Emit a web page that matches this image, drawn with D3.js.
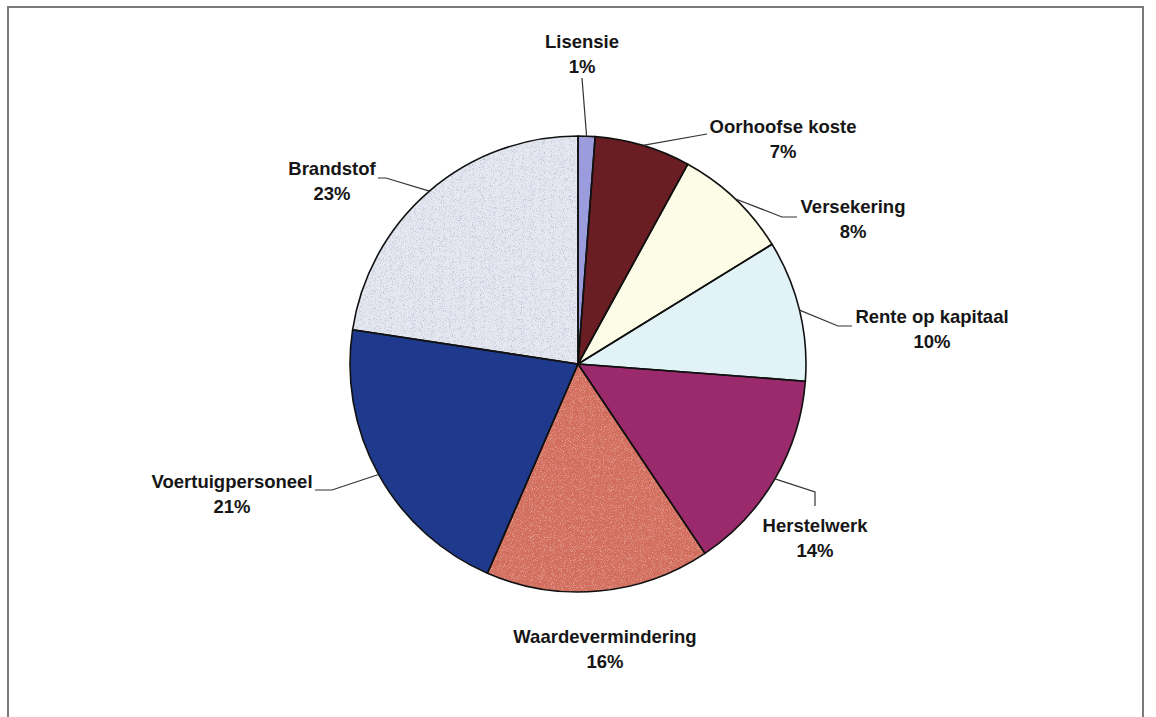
<!DOCTYPE html>
<html>
<head>
<meta charset="utf-8">
<script src="https://cdn.jsdelivr.net/npm/d3@7"></script>
<style>
  html, body { margin: 0; padding: 0; background: #fff; }
  svg text { font-family: "Liberation Sans", Arial, sans-serif; font-weight: bold; fill: #161616; }
</style>
</head>
<body>
<div id="chart"></div>
<script>
// cost split (labels round them)
const categories = ['Lisensie', 'Oorhoofse koste', 'Versekering', 'Rente op kapitaal',
                    'Herstelwerk', 'Waardevermindering', 'Voertuigpersoneel', 'Brandstof'];
const shares = [1.2, 6.8, 8.2, 10.0, 14.4, 15.9, 20.9, 22.6];
const colours = ['#9a9be0', '#6a1d22', '#fdfce6', '#e2f3f8', '#9b2a6c', '#d26c5b', '#1f3a8c', '#e6e9f2'];
const textures = ['dark', null, null, null, null, 'light', null, 'dark'];

// label placement: text centre x, first baseline y, leader elbow/end points
const labelPos = [
  { x: 582, y: 48,  leader: [[582, 78]] },
  { x: 783, y: 133, leader: [[707, 134]] },
  { x: 853, y: 213, leader: [[782, 217], [797, 217]] },
  { x: 932, y: 323, leader: [[838, 326], [852, 326]] },
  { x: 815, y: 532, leader: [[815, 492], [815, 506]] },
  { x: 605, y: 643, leader: null },
  { x: 232, y: 488, leader: [[332, 490], [315, 490]] },
  { x: 332, y: 175, leader: [[386, 178], [378, 178]] }
];

const W = 1156, H = 717;
const cx = 578, cy = 364, R = 228;

const svg = d3.select('#chart').append('svg')
  .attr('width', W).attr('height', H);

// speckle textures for the stippled slices
const defs = svg.append('defs');
function grainFilter(id, rgb, alphaRow, seed) {
  const f = defs.append('filter').attr('id', id)
    .attr('x', 0).attr('y', 0).attr('width', '100%').attr('height', '100%');
  f.append('feTurbulence').attr('type', 'fractalNoise').attr('baseFrequency', 1.1)
    .attr('numOctaves', 2).attr('seed', seed).attr('result', 'noise');
  f.append('feColorMatrix').attr('in', 'noise').attr('type', 'matrix')
    .attr('values', `0 0 0 0 ${rgb[0]}  0 0 0 0 ${rgb[1]}  0 0 0 0 ${rgb[2]}  ${alphaRow}`)
    .attr('result', 'dots');
  f.append('feComposite').attr('in', 'dots').attr('in2', 'SourceGraphic')
    .attr('operator', 'in').attr('result', 'clipped');
  const m = f.append('feMerge');
  m.append('feMergeNode').attr('in', 'SourceGraphic');
  m.append('feMergeNode').attr('in', 'clipped');
}
grainFilter('grain-dark', [0.35, 0.38, 0.5], '2.2 0 0 0 -1.1', 4);
grainFilter('grain-light', [0.95, 0.62, 0.52], '1.6 0 0 0 -0.8', 7);

// outer frame
svg.append('rect')
  .attr('x', 8).attr('y', 7).attr('width', 1135).attr('height', 730)
  .attr('fill', 'none').attr('stroke', '#7a7a7a').attr('stroke-width', 2);

const data = categories.map((c, i) => ({ name: c, value: shares[i], colour: colours[i], tex: textures[i], lab: labelPos[i] }));

const pie = d3.pie().sort(null).value(d => d.value);
const arc = d3.arc().innerRadius(0).outerRadius(R);
const arcs = pie(data);

const g = svg.append('g').attr('transform', `translate(${cx},${cy})`);

g.selectAll('path.slice')
  .data(arcs)
  .enter().append('path')
  .attr('class', 'slice')
  .attr('d', arc)
  .attr('fill', d => d.data.colour)
  .attr('filter', d => d.data.tex ? `url(#grain-${d.data.tex})` : null);

// slice outlines drawn on top so the texture does not cover them
g.selectAll('path.edge')
  .data(arcs)
  .enter().append('path')
  .attr('class', 'edge')
  .attr('d', arc)
  .attr('fill', 'none')
  .attr('stroke', '#111')
  .attr('stroke-width', 1.6)
  .attr('stroke-linejoin', 'round');

// leader lines, from the arc midpoint to the label
const line = d3.line();
arcs.forEach(d => {
  if (!d.data.lab.leader) return;
  const a = (d.startAngle + d.endAngle) / 2;
  const start = [cx + R * Math.sin(a), cy - R * Math.cos(a)];
  svg.append('path')
    .attr('d', line([start].concat(d.data.lab.leader)))
    .attr('fill', 'none')
    .attr('stroke', '#333')
    .attr('stroke-width', 1.2);
});

// labels
arcs.forEach(d => {
  const t = svg.append('text')
    .attr('text-anchor', 'middle')
    .attr('font-size', '18.5px');
  t.append('tspan').attr('x', d.data.lab.x).attr('y', d.data.lab.y).text(d.data.name);
  t.append('tspan').attr('x', d.data.lab.x).attr('y', d.data.lab.y + 25).text(Math.round(d.data.value) + '%');
});
</script>
</body>
</html>
